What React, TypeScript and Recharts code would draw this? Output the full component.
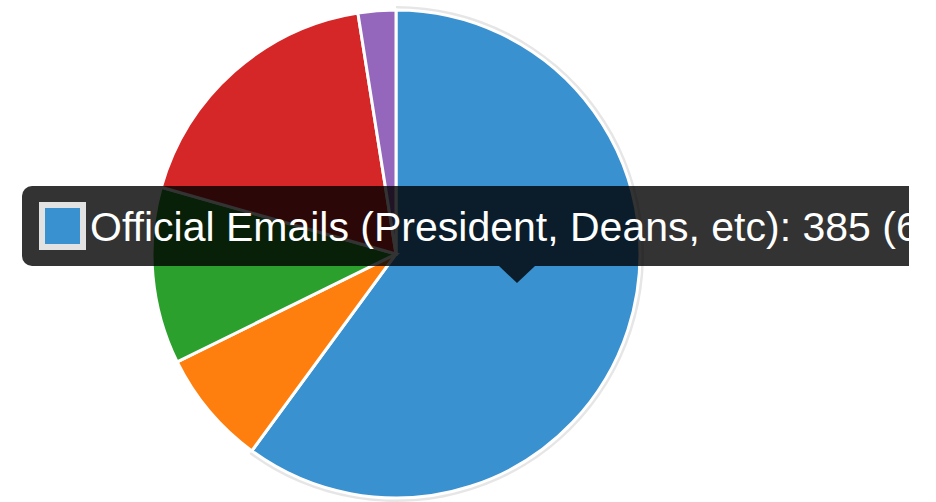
import React from "react";
import { PieChart, Pie, Cell, Tooltip } from "recharts";

// slices, clockwise from 12 o'clock
const categories = [
  "Official Emails (President, Deans, etc)",
  "Other",
  "Department Emails",
  "Student Organization Emails",
  "Event Announcements",
];
const counts = [385, 49, 75, 116, 16];
const colors = ["#3a91d0", "#ff7f0e", "#2ca02c", "#d62728", "#9467bd"];

const total = counts.reduce((a, b) => a + b, 0);
const data = categories.map((name, i) => ({ name, value: counts[i] }));

const TipContent: React.FC<any> = ({ payload }) => {
  if (!payload || !payload.length) return null;
  const item = payload[0];
  const idx = categories.indexOf(item.name);
  const pct = ((item.value / total) * 100).toFixed(1);
  return (
    <div style={{ position: "relative", width: 887, height: 80 }}>
      <div
        style={{
          width: 887,
          height: 80,
          overflow: "hidden",
          background: "rgba(0,0,0,0.8)",
          borderRadius: "10px 0 0 10px",
          display: "flex",
          alignItems: "center",
          whiteSpace: "nowrap",
        }}
      >
        <span
          style={{
            display: "inline-block",
            width: 35,
            height: 36,
            marginLeft: 17,
            marginRight: 4,
            background: colors[idx],
            border: "6px solid #e2e2e2",
            flexShrink: 0,
          }}
        />
        <span
          style={{
            color: "#fff",
            fontFamily: "'Liberation Sans', Arial, sans-serif",
            fontSize: 41,
            marginTop: 2,
          }}
        >
          {item.name}: {item.value} ({pct}%)
        </span>
      </div>
      <div
        style={{
          position: "absolute",
          left: 477,
          top: 80,
          width: 0,
          height: 0,
          borderLeft: "18px solid transparent",
          borderRight: "18px solid transparent",
          borderTop: "17px solid rgba(0,0,0,0.8)",
        }}
      />
    </div>
  );
};

export default function App() {
  return (
    <div style={{ position: "absolute", left: 0, top: 0, width: 936, height: 502, background: "#fff" }}>
      <PieChart width={936} height={502} margin={{ top: 0, right: 0, bottom: 0, left: 0 }}>
        {/* hover halo behind the highlighted slice */}
        <Pie
          data={data}
          dataKey="value"
          cx={396}
          cy={254}
          outerRadius={248}
          startAngle={90}
          endAngle={-270}
          stroke="none"
          isAnimationActive={false}
          tooltipType="none"
        >
          {data.map((d, i) => (
            <Cell key={d.name} fill={i === 0 ? "#e6e6e6" : "transparent"} />
          ))}
        </Pie>
        <Pie
          data={data}
          dataKey="value"
          cx={396}
          cy={254}
          outerRadius={244}
          startAngle={90}
          endAngle={-270}
          stroke="#fff"
          strokeWidth={3}
          isAnimationActive={false}
        >
          {data.map((d, i) => (
            <Cell key={d.name} fill={colors[i]} />
          ))}
        </Pie>
        <Tooltip
          active
          defaultIndex={0}
          position={{ x: 22, y: 186 }}
          content={<TipContent />}
          isAnimationActive={false}
          allowEscapeViewBox={{ x: true, y: true }}
          wrapperStyle={{ outline: "none" }}
        />
      </PieChart>
    </div>
  );
}
